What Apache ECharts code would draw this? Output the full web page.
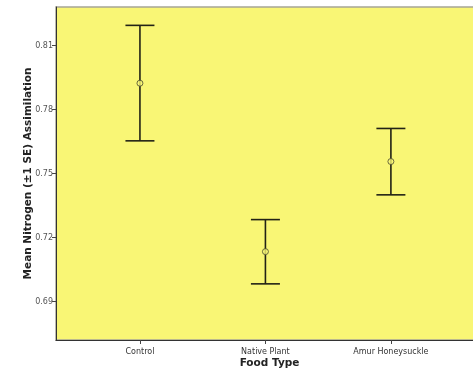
<!DOCTYPE html>
<html><head><meta charset="utf-8">
<script src="https://cdn.jsdelivr.net/npm/echarts@6/dist/echarts.min.js"></script>
<style>html,body{margin:0;padding:0;background:#fff;overflow:hidden}#c{width:473px;height:371px}</style>
</head><body><div id="c"></div>
<script>
const categories = ['Control', 'Native Plant', 'Amur Honeysuckle'];
const means = [0.7923, 0.7134, 0.7556];
const upper = [0.8194, 0.7284, 0.7711];
const lower = [0.7653, 0.6983, 0.7400];
const yTicks = [0.69, 0.72, 0.75, 0.78, 0.81];
const xPos = [1, 2, 3];

const chart = echarts.init(document.getElementById('c'));
const errData = categories.map((c, i) => [xPos[i], lower[i], upper[i]]);
const meanData = categories.map((c, i) => [xPos[i], means[i]]);

chart.setOption({
  animation: false,
  grid: { left: 56, top: 7, right: -10, bottom: 31, outerBoundsMode: 'none', containLabel: false, show: true, backgroundColor: '#f9f675', borderColor: '#a7a595', borderWidth: 1.5 },
  xAxis: {
    type: 'value', min: 0.331, max: 3.734,
    name: 'Food Type', nameLocation: 'middle', nameGap: 18, nameMoveOverlap: false,
    nameTextStyle: { fontFamily: 'DejaVu Sans', fontWeight: 'bold', fontSize: 10.5, color: '#222' },
    axisLine: { show: true, lineStyle: { color: '#333', width: 1 } },
    axisTick: { show: true, length: 4, customValues: xPos, lineStyle: { color: '#444' } },
    axisLabel: { customValues: xPos, formatter: v => categories[Math.round(v) - 1] || '', fontFamily: 'DejaVu Sans', fontSize: 8, color: '#333', margin: 8 },
    splitLine: { show: false }
  },
  yAxis: {
    type: 'value', min: 0.672, max: 0.828,
    name: 'Mean Nitrogen (\u00b11 SE) Assimilation', nameLocation: 'middle', nameGap: 22, nameMoveOverlap: false,
    nameTextStyle: { fontFamily: 'DejaVu Sans', fontWeight: 'bold', fontSize: 10.5, color: '#222' },
    axisLine: { show: true, lineStyle: { color: '#333', width: 1 } },
    axisTick: { show: true, length: 4, customValues: yTicks, lineStyle: { color: '#444' } },
    axisLabel: { customValues: yTicks, formatter: v => v.toFixed(2), fontFamily: 'DejaVu Sans', fontSize: 8, color: '#555', margin: 3 },
    splitLine: { show: false }
  },
  series: [
    {
      type: 'custom',
      data: errData,
      renderItem: function (params, api) {
        const x = api.value(0);
        const lo = api.coord([x, api.value(1)]);
        const hi = api.coord([x, api.value(2)]);
        const hw = 14.5;
        const st = { stroke: '#222216', lineWidth: 1.6 };
        return {
          type: 'group',
          children: [
            { type: 'line', shape: { x1: hi[0], y1: hi[1], x2: lo[0], y2: lo[1] }, style: st },
            { type: 'line', shape: { x1: hi[0] - hw, y1: hi[1], x2: hi[0] + hw, y2: hi[1] }, style: st },
            { type: 'line', shape: { x1: lo[0] - hw, y1: lo[1], x2: lo[0] + hw, y2: lo[1] }, style: st }
          ]
        };
      },
      z: 2
    },
    {
      type: 'scatter',
      data: meanData,
      symbol: 'circle',
      symbolSize: 6,
      itemStyle: { color: '#f9f675', borderColor: '#4a4a30', borderWidth: 1 },
      z: 3
    }
  ]
});
</script>
</body></html>
